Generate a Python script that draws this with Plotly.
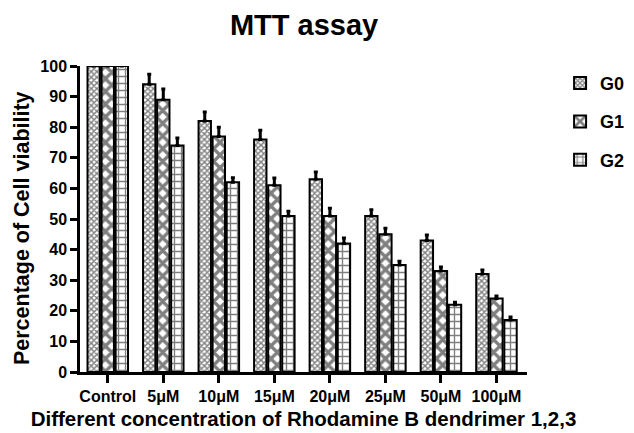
import plotly.graph_objects as go

categories = ["Control", "5μM", "10μM", "15μM", "20μM", "25μM", "50μM", "100μM"]
g0 = [100, 94, 82, 76, 63, 51, 43, 32]
g1 = [100, 89, 77, 61, 51, 45, 33, 24]
g2 = [100, 74, 62, 51, 42, 35, 22, 17]
g0_err = [0, 3.3, 3, 3, 2.4, 2, 1.8, 1.3]
g1_err = [0, 3.5, 3, 2.4, 2.5, 2, 1.3, 0.8]
g2_err = [0, 2.5, 1.5, 1.5, 1.8, 1.2, 0.8, 1.0]
series_names = ["G0", "G1", "G2"]
y_ticks = list(range(0, 101, 10))

FONT = "Liberation Sans, Arial, sans-serif"
patterns = [
    dict(shape="x", size=4, solidity=0.6, fgcolor="black", bgcolor="white"),
    dict(shape="x", size=9, solidity=0.6, fgcolor="black", bgcolor="white"),
    dict(shape="+", size=7, solidity=0.35, fgcolor="black", bgcolor="white"),
]

fig = go.Figure()
for name, vals, errs, pat in zip(series_names, [g0, g1, g2], [g0_err, g1_err, g2_err], patterns):
    fig.add_trace(go.Bar(
        x=categories, y=vals, name=name, legendgroup=name,
        marker=dict(color="white", pattern=pat, line=dict(color="black", width=2)),
        error_y=dict(type="data", symmetric=False, array=errs, arrayminus=[0] * len(errs),
                     color="black", thickness=3, width=2),
    ))

# page body adds an 8px offset; margins compensate
fig.update_layout(
    width=634, height=433,
    margin=dict(l=72, r=115, t=58, b=69),
    paper_bgcolor="white", plot_bgcolor="white",
    barmode="group", bargap=0.24, bargroupgap=0.12,
    title=dict(text="MTT assay", x=0.467, xanchor="center", y=0.962, yanchor="middle",
               font=dict(family=FONT, size=29, color="black", weight="bold")),
    font=dict(family=FONT, color="black"),
    legend=dict(x=1.074, y=1.004, xanchor="left", yanchor="top", tracegroupgap=12,
                font=dict(family=FONT, size=18, color="black", weight="bold")),
    showlegend=True,
    annotations=[dict(text="Percentage of Cell viability", textangle=-90,
                      xref="paper", yref="paper", x=-0.13, y=0.47,
                      xanchor="center", yanchor="middle", showarrow=False,
                      font=dict(family=FONT, size=21.5, color="black", weight="bold"))],
)
fig.update_xaxes(
    showline=True, linecolor="black", linewidth=2.5, ticks="outside", ticklen=8, tickwidth=2.5,
    tickcolor="black", range=[-0.5, 7.55], showgrid=False,
    tickfont=dict(family=FONT, size=16, color="black", weight="bold"),
    title=dict(text="Different concentration of Rhodamine B dendrimer 1,2,3", standoff=8,
               font=dict(family=FONT, size=20.5, color="black", weight="bold")),
)
fig.update_yaxes(
    showline=True, linecolor="black", linewidth=2.5, ticks="outside", ticklen=7, tickwidth=2.5,
    tickcolor="black", range=[0, 100], tickvals=y_ticks, showgrid=False, zeroline=False,
    tickfont=dict(family=FONT, size=16, color="black", weight="bold"),
)
fig.write_html("out.html")
